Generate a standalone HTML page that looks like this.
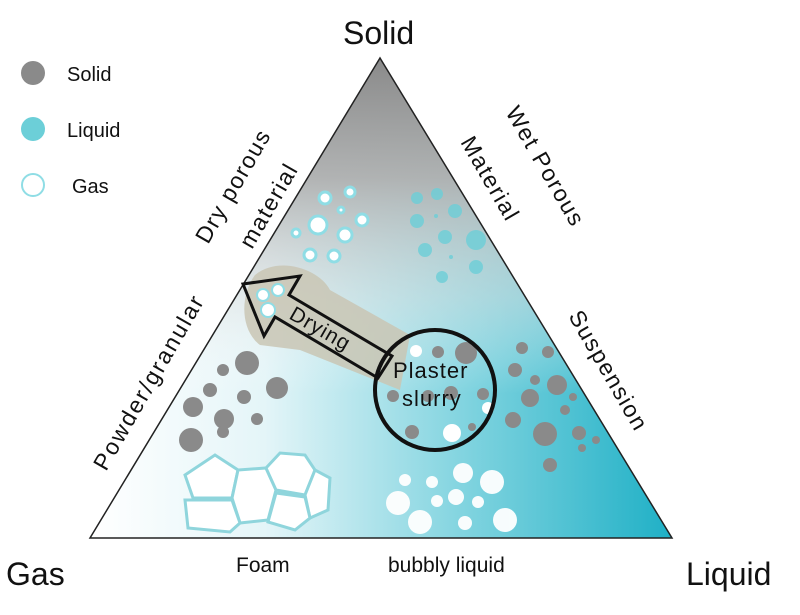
<!DOCTYPE html>
<html><head><meta charset="utf-8"><style>
body{margin:0;background:#fff;}
svg text{font-family:"Liberation Sans",sans-serif;fill:#111;}
</style></head><body>
<svg width="800" height="610" viewBox="0 0 800 610" xmlns="http://www.w3.org/2000/svg">
<defs>
<linearGradient id="h" x1="90" y1="0" x2="672" y2="0" gradientUnits="userSpaceOnUse">
<stop offset="0" stop-color="#ffffff"/><stop offset="0.3" stop-color="#e4f5f8"/><stop offset="0.65" stop-color="#7fd3df"/><stop offset="1" stop-color="#1fb0c6"/></linearGradient>
<linearGradient id="v" x1="0" y1="58" x2="0" y2="538" gradientUnits="userSpaceOnUse">
<stop offset="0" stop-color="#8a8a8a" stop-opacity="1"/><stop offset="0.25" stop-color="#b0b0b0" stop-opacity="0.95"/><stop offset="0.5" stop-color="#e0e0e0" stop-opacity="0.5"/><stop offset="0.7" stop-color="#ffffff" stop-opacity="0"/></linearGradient>
<clipPath id="tc"><polygon points="380,58 90,538 672,538"/></clipPath>
</defs>
<g clip-path="url(#tc)">
<rect x="0" y="0" width="800" height="610" fill="url(#h)"/>
<rect x="0" y="0" width="800" height="610" fill="url(#v)"/>
</g>
<polygon points="380,58 90,538 672,538" fill="none" stroke="#222" stroke-width="1.5"/>
<g fill="#fff" stroke="#8fdde5" stroke-width="3">
<circle cx="325" cy="198" r="6"/><circle cx="350" cy="192" r="5"/><circle cx="341" cy="210" r="3"/><circle cx="318" cy="225" r="9"/><circle cx="362" cy="220" r="6"/><circle cx="345" cy="235" r="7"/><circle cx="296" cy="233" r="4"/><circle cx="310" cy="255" r="6"/><circle cx="334" cy="256" r="6"/>
</g>
<g fill="#6ccfd8" opacity="0.8">
<circle cx="417" cy="198" r="6"/><circle cx="437" cy="194" r="6"/><circle cx="455" cy="211" r="7"/><circle cx="417" cy="221" r="7"/><circle cx="436" cy="216" r="2"/><circle cx="445" cy="237" r="7"/><circle cx="476" cy="240" r="10"/><circle cx="425" cy="250" r="7"/><circle cx="451" cy="257" r="2"/><circle cx="476" cy="267" r="7"/><circle cx="442" cy="277" r="6"/>
</g>
<path d="M255,275 C280,255 320,270 330,290 L410,335 L400,390 L300,350 L260,345 C240,330 240,295 255,275 Z" fill="#c9c5b4" opacity="0.85"/>
<g fill="#fff" stroke="#8fdde5" stroke-width="2"><circle cx="263" cy="295" r="6"/><circle cx="278" cy="290" r="6"/><circle cx="268" cy="310" r="7"/></g>
<polygon points="243,284 300,276 289,295 392,356 378,378 275,317 264,336" fill="none" stroke="#111" stroke-width="3" stroke-linejoin="miter"/>
<text x="0" y="0" font-size="21" letter-spacing="1" transform="translate(288,318) rotate(30)">Drying</text>
<g fill="#8a8a8a">
<circle cx="247" cy="363" r="12"/><circle cx="223" cy="370" r="6"/><circle cx="210" cy="390" r="7"/><circle cx="244" cy="397" r="7"/><circle cx="277" cy="388" r="11"/><circle cx="193" cy="407" r="10"/><circle cx="224" cy="419" r="10"/><circle cx="257" cy="419" r="6"/><circle cx="191" cy="440" r="12"/><circle cx="223" cy="432" r="6"/>
</g>
<g fill="#8a8a8a">
<circle cx="522" cy="348" r="6"/><circle cx="548" cy="352" r="6"/><circle cx="515" cy="370" r="7"/><circle cx="535" cy="380" r="5"/><circle cx="557" cy="385" r="10"/><circle cx="530" cy="398" r="9"/><circle cx="573" cy="397" r="4"/><circle cx="565" cy="410" r="5"/><circle cx="513" cy="420" r="8"/><circle cx="545" cy="434" r="12"/><circle cx="579" cy="433" r="7"/><circle cx="582" cy="448" r="4"/><circle cx="550" cy="465" r="7"/><circle cx="596" cy="440" r="4"/>
</g>
<g fill="#8a8a8a">
<circle cx="438" cy="352" r="6"/><circle cx="466" cy="353" r="11"/><circle cx="393" cy="396" r="6"/><circle cx="428" cy="396" r="6"/><circle cx="451" cy="393" r="7"/><circle cx="483" cy="394" r="6"/><circle cx="412" cy="432" r="7"/><circle cx="472" cy="427" r="4"/>
</g>
<g fill="#fff"><circle cx="416" cy="351" r="6"/><circle cx="488" cy="408" r="6"/><circle cx="452" cy="433" r="9"/></g>
<circle cx="435" cy="390" r="60" fill="none" stroke="#111" stroke-width="4"/>
<text x="393" y="378" font-size="22" letter-spacing="1">Plaster</text>
<text x="402" y="406" font-size="22" letter-spacing="1">slurry</text>
<g fill="#fff" stroke="#8fd5dc" stroke-width="3">
<polygon points="185,475 215,455 238,470 232,498 193,498"/>
<polygon points="232,498 238,470 266,468 276,490 268,520 240,523"/>
<polygon points="266,468 280,453 305,455 315,470 305,495 276,490"/>
<polygon points="305,495 315,470 330,478 328,510 310,518"/>
<polygon points="185,500 232,500 240,523 230,532 188,528"/>
<polygon points="276,493 305,497 310,518 295,530 268,522"/>
</g>
<g fill="#fff" opacity="0.95">
<circle cx="405" cy="480" r="6"/><circle cx="432" cy="482" r="6"/><circle cx="463" cy="473" r="10"/><circle cx="492" cy="482" r="12"/><circle cx="398" cy="503" r="12"/><circle cx="437" cy="501" r="6"/><circle cx="456" cy="497" r="8"/><circle cx="478" cy="502" r="6"/><circle cx="420" cy="522" r="12"/><circle cx="465" cy="523" r="7"/><circle cx="505" cy="520" r="12"/>
</g>
<circle cx="33" cy="73" r="12" fill="#8a8a8a"/>
<circle cx="33" cy="129" r="12" fill="#6ccfd8"/>
<circle cx="33" cy="185" r="11" fill="#fff" stroke="#8fdde5" stroke-width="2"/>
<text x="67" y="81" font-size="20">Solid</text>
<text x="67" y="137" font-size="20">Liquid</text>
<text x="72" y="193" font-size="20">Gas</text>
<text x="343" y="44" font-size="32">Solid</text>
<text x="6" y="585" font-size="32">Gas</text>
<text x="686" y="585" font-size="32">Liquid</text>
<text x="236" y="572" font-size="21">Foam</text>
<text x="388" y="572" font-size="21">bubbly liquid</text>
<text font-size="23" letter-spacing="1.5" transform="translate(208,245) rotate(-60)">Dry porous</text>
<text font-size="23" letter-spacing="1.5" transform="translate(252,250) rotate(-60)">material</text>
<text font-size="23" letter-spacing="2" transform="translate(106,472) rotate(-60)">Powder/granular</text>
<text font-size="23" letter-spacing="1.5" transform="translate(505,112) rotate(60)">Wet Porous</text>
<text font-size="23" letter-spacing="1.5" transform="translate(460,142) rotate(60)">Material</text>
<text font-size="23" letter-spacing="1.5" transform="translate(568,316) rotate(60)">Suspension</text>
</svg>
</body></html>
